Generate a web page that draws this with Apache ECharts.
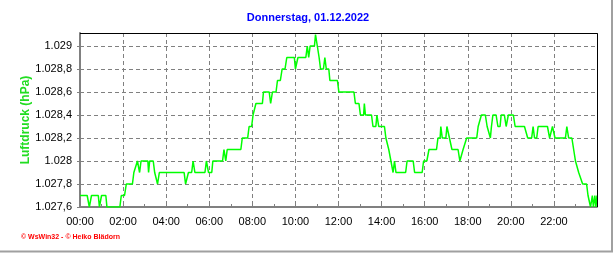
<!DOCTYPE html>
<html><head><meta charset="utf-8">
<script src="https://cdn.jsdelivr.net/npm/echarts@6/dist/echarts.min.js"></script>
<style>html,body{margin:0;padding:0;background:#fff}#c{width:616px;height:253px}</style>
</head><body><div id="c"></div>
<script>
const titleText = 'Donnerstag, 01.12.2022';
const yName = 'Luftdruck (hPa)';
const footer = '\u00A9 WsWin32 - \u00A9 Heiko Bl\u00E4dorn';
const hourLabels = ['00:00','02:00','04:00','06:00','08:00','10:00','12:00','14:00','16:00','18:00','20:00','22:00'];
// minutes since midnight (corner points of the trace)
const minutes = [0,20,26,28,32,51,54,57,60,72,75,111,115,124,129,146,150,155,160,163,166,170,189,191,194,204,208,212,216,218,221,290,294,297,302,311,315,318,320,348,352,355,358,367,370,397,401,406,410,448,452,467,471,478,482,487,490,508,511,527,531,533,536,546,550,558,563,571,576,597,600,602,607,629,633,637,641,653,656,658,661,666,670,678,682,686,693,696,717,721,763,767,777,781,790,792,795,812,816,824,827,832,848,852,860,866,872,876,880,907,911,928,932,953,957,966,972,993,997,1003,1005,1009,1019,1022,1025,1029,1031,1036,1053,1058,1059,1067,1070,1077,1105,1109,1114,1118,1129,1134,1139,1143,1146,1150,1159,1164,1170,1173,1182,1187,1193,1207,1212,1238,1247,1258,1262,1266,1272,1276,1302,1308,1311,1316,1318,1323,1352,1356,1358,1361,1370,1375,1380,1385,1389,1394,1400,1411,1415,1422,1427,1430,1434,1437,1440];
// pressure in hPa
const pressure = [1027.7,1027.7,1027.6,1027.6,1027.7,1027.7,1027.6,1027.6,1027.7,1027.7,1027.6,1027.6,1027.7,1027.7,1027.8,1027.8,1027.9,1027.9,1028.0,1028.0,1027.9,1028.0,1028.0,1027.9,1028.0,1028.0,1027.9,1027.9,1027.8,1027.8,1027.9,1027.9,1027.8,1027.8,1027.9,1027.9,1028.0,1028.0,1027.9,1027.9,1028.0,1028.0,1027.9,1027.9,1028.0,1028.0,1028.1,1028.0,1028.1,1028.1,1028.2,1028.2,1028.3,1028.3,1028.4,1028.4,1028.5,1028.5,1028.6,1028.6,1028.5,1028.5,1028.6,1028.6,1028.7,1028.7,1028.8,1028.8,1028.9,1028.9,1028.8,1028.8,1028.9,1028.9,1029.0,1028.9,1029.0,1029.0,1029.1,1029.1,1029.0,1028.9,1028.8,1028.8,1028.9,1028.8,1028.8,1028.7,1028.7,1028.6,1028.6,1028.5,1028.5,1028.4,1028.4,1028.5,1028.4,1028.4,1028.3,1028.3,1028.4,1028.3,1028.3,1028.2,1028.1,1028.0,1027.9,1028.0,1027.9,1027.9,1028.0,1028.0,1027.9,1027.9,1028.0,1028.0,1028.1,1028.1,1028.2,1028.2,1028.3,1028.2,1028.2,1028.3,1028.3,1028.2,1028.2,1028.1,1028.1,1028.0,1028.0,1028.1,1028.1,1028.2,1028.2,1028.3,1028.3,1028.4,1028.4,1028.3,1028.3,1028.2,1028.3,1028.4,1028.4,1028.3,1028.3,1028.4,1028.4,1028.3,1028.4,1028.4,1028.3,1028.3,1028.2,1028.2,1028.3,1028.2,1028.2,1028.3,1028.3,1028.2,1028.2,1028.3,1028.3,1028.2,1028.2,1028.3,1028.3,1028.2,1028.2,1028.1,1028.0,1028.0,1027.9,1027.9,1027.8,1027.8,1027.7,1027.6,1027.7,1027.6,1027.7,1027.6,1027.7];
const yMin = 1027.6, yMax = 1029.113, yStep = 0.2;

function deFmt(v){
  const r = Math.round(v*10)/10;
  const i = Math.floor(r + 1e-9);
  const d = Math.round((r - i)*10);
  const s = String(i).replace(/\B(?=(\d{3})+(?!\d))/g, '.');
  return d ? s + ',' + d : s;
}

const FONT = 'Liberation Sans, Arial, sans-serif';
const chart = echarts.init(document.getElementById('c'), null, {renderer:'canvas'});
chart.setOption({
  animation:false,
  backgroundColor:'#ffffff',
  grid:{left:80, right:19, top:33, bottom:46, show:false},
  xAxis:{
    type:'value', min:0, max:1440, interval:120,
    axisLine:{show:true, onZero:false, lineStyle:{color:'#808080', width:2}},
    axisTick:{show:true, inside:true, length:4, lineStyle:{color:'#808080', width:1}},
    minorTick:{show:true, splitNumber:2, length:3, lineStyle:{color:'#808080', width:1}},
    axisLabel:{show:true, margin:9, color:'#000', fontFamily:FONT, fontSize:11,
      formatter:function(v){ const k = Math.round(v/120); return (k < hourLabels.length) ? hourLabels[k] : ''; }},
    splitLine:{show:true, lineStyle:{color:'#808080', width:1, type:[4,3]}}
  },
  yAxis:{
    type:'value', min:yMin, max:yMax, interval:yStep,
    axisLine:{show:true, lineStyle:{color:'#808080', width:2}},
    axisTick:{show:true, inside:false, length:3, lineStyle:{color:'#808080', width:1}},
    axisLabel:{show:true, margin:8, color:'#000', fontFamily:FONT, fontSize:11, showMaxLabel:false,
      formatter:function(v){ return (Math.abs(v - yMax) < 1e-6) ? '' : deFmt(v); }},
    splitLine:{show:true, lineStyle:{color:'#808080', width:1, type:[4,3]}}
  },
  series:[{
    type:'line', showSymbol:false, symbol:'none',
    data: minutes.map((m,i)=>[m, pressure[i]]),
    lineStyle:{color:'#00FF00', width:1.5},
    z:3
  }],
  graphic:[
    {type:'text', left:'center', top:12, style:{text:titleText, fill:'#0000FF', font:'bold 11px '+FONT}},
    {type:'text', x:26, y:120, rotation:Math.PI/2, style:{text:yName, fill:'#22DD22', font:'bold 12px '+FONT, align:'center', verticalAlign:'middle'}},
    {type:'text', x:21, y:237.5, style:{text:footer, fill:'#FF0000', font:'bold 7px '+FONT, verticalAlign:'middle'}},
    {type:'polyline', shape:{points:[[80,33.5],[597.5,33.5],[597.5,207]]}, style:{stroke:'#000', lineWidth:1, fill:null}, z:10},
    {type:'line', shape:{x1:612, y1:0, x2:612, y2:252}, style:{stroke:'#A0A0A0', lineWidth:2}, z:10},
    {type:'line', shape:{x1:0, y1:251.5, x2:613, y2:251.5}, style:{stroke:'#A0A0A0', lineWidth:2}, z:10}
  ]
});
</script></body></html>
